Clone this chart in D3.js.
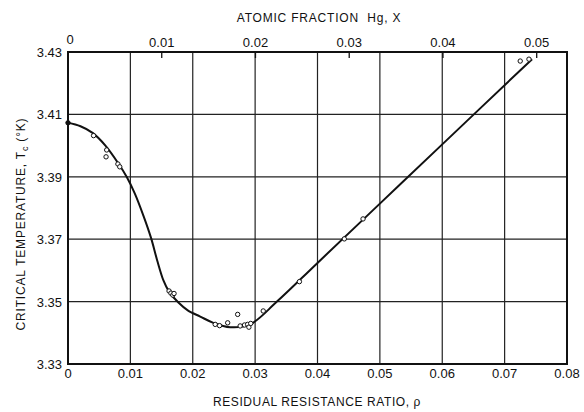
<!DOCTYPE html>
<html><head><meta charset="utf-8">
<script src="https://cdn.jsdelivr.net/npm/d3@7"></script>
<style>
html,body{margin:0;padding:0;background:#fff;}
svg text{font-family:"Liberation Sans",Arial,sans-serif;fill:#111;}
</style></head>
<body>
<svg id="chart" width="584" height="412"></svg>
<script>
// ---- data ----
const rhoTicks = [0,0.01,0.02,0.03,0.04,0.05,0.06,0.07,0.08];
const rhoTickLabels = ["0","0.01","0.02","0.03","0.04","0.05","0.06","0.07","0.08"];
const tcTicks = [3.33,3.35,3.37,3.39,3.41,3.43];
const tcTickLabels = ["3.33","3.35","3.37","3.39","3.41","3.43"];
const xTicks = [0,0.01,0.02,0.03,0.04,0.05];
const xTickLabels = ["0","0.01","0.02","0.03","0.04","0.05"];

// measured points
const pointRho = [0,0.0041,0.0062,0.0061,0.0080,0.0083,0.0162,0.0165,0.0168,0.0170,
  0.0236,0.0243,0.0256,0.0272,0.0276,0.0283,0.0288,0.0290,0.0293,0.0313,0.0371,0.0443,0.0473,0.0725,0.0739];
const pointTc = [3.4073,3.4032,3.3986,3.3964,3.3941,3.3932,3.3534,3.3527,3.3521,3.3526,
  3.3427,3.3423,3.3432,3.3459,3.3422,3.3425,3.3427,3.3418,3.3430,3.3470,3.3564,3.3701,3.3765,3.4271,3.4277];

// fitted curve
const curveRho = [0,0.002,0.004,0.006,0.008,0.0094,0.0107,0.0121,0.0133,0.0143,0.0153,0.0162,0.0177,0.0192,0.0212,0.0233,0.0260,0.0292,0.0335,0.040,0.050,0.060,0.0744];
const curveTc  = [3.4073,3.4062,3.4040,3.4000,3.3945,3.3900,3.3847,3.3775,3.3705,3.3632,3.3568,3.3532,3.3497,3.3472,3.3452,3.3432,3.3418,3.3427,3.3500,3.3624,3.3814,3.4004,3.4277];

// ---- layout ----
const L=68, R=567, T=52, B=364;
const svg = d3.select("#chart");
const x = d3.scaleLinear().domain([0,0.08]).range([L,R]);
const xTop = d3.scaleLinear().domain([0,(R-L)/9374]).range([L,R]);
const y = d3.scaleLinear().domain([3.33,3.43]).range([B,T]);

// grid
svg.append("g").selectAll("line").data(rhoTicks.slice(1,-1)).join("line")
  .attr("x1",d=>x(d)).attr("x2",d=>x(d)).attr("y1",T).attr("y2",B)
  .attr("stroke","#222").attr("stroke-width",1.2);
svg.append("g").selectAll("line").data(tcTicks.slice(1,-1)).join("line")
  .attr("y1",d=>y(d)).attr("y2",d=>y(d)).attr("x1",L).attr("x2",R)
  .attr("stroke","#222").attr("stroke-width",1.2);

// frame
svg.append("rect").attr("x",L).attr("y",T).attr("width",R-L).attr("height",B-T)
  .attr("fill","none").attr("stroke","#111").attr("stroke-width",2);

// top axis inward ticks
svg.append("g").selectAll("line").data(xTicks.slice(1)).join("line")
  .attr("x1",d=>xTop(d)).attr("x2",d=>xTop(d)).attr("y1",T).attr("y2",T+6)
  .attr("stroke","#111").attr("stroke-width",1.3);

// tick labels
svg.append("g").selectAll("text").data(rhoTicks).join("text")
  .attr("x",d=>x(d)).attr("y",378).attr("text-anchor","middle")
  .attr("font-size",13).text((d,i)=>rhoTickLabels[i]);
svg.append("g").selectAll("text").data(xTicks).join("text")
  .attr("x",d=>xTop(d)+(d===0?2:0)).attr("y",d=>d===0?44:47).attr("text-anchor","middle")
  .attr("font-size",13).text((d,i)=>xTickLabels[i]);
svg.append("g").selectAll("text").data(tcTicks).join("text")
  .attr("x",62).attr("y",d=>y(d)+5).attr("text-anchor","end")
  .attr("font-size",13).text((d,i)=>tcTickLabels[i]);

// axis titles
svg.append("text").attr("x",317).attr("y",406).attr("text-anchor","middle")
  .attr("font-size",12).attr("letter-spacing",0.6).text("RESIDUAL RESISTANCE RATIO, ρ");
svg.append("text").attr("x",319).attr("y",22).attr("text-anchor","middle")
  .attr("font-size",12).attr("letter-spacing",0.8).attr("xml:space","preserve")
  .style("white-space","pre").text("ATOMIC FRACTION  Hg, X");
const yt = svg.append("text").attr("transform","translate(25,224) rotate(-90)")
  .attr("text-anchor","middle").attr("font-size",12).attr("letter-spacing",0.8);
yt.append("tspan").text("CRITICAL TEMPERATURE, T");
yt.append("tspan").attr("font-size",9).attr("dy",3).text("c");
yt.append("tspan").attr("dy",-3).text(" (°K)");

// curve
const curveData = curveRho.map((r,i)=>[r,curveTc[i]]);
svg.append("path").datum(curveData)
  .attr("d", d3.line().x(d=>x(d[0])).y(d=>y(d[1])).curve(d3.curveCatmullRom.alpha(0.5)))
  .attr("fill","none").attr("stroke","#111").attr("stroke-width",2);

// points
const pts = pointRho.map((r,i)=>[r,pointTc[i]]);
svg.append("g").selectAll("circle").data(pts).join("circle")
  .attr("cx",d=>x(d[0])).attr("cy",d=>y(d[1])).attr("r",2.2)
  .attr("fill",(d,i)=>i===0?"#111":"#fff").attr("stroke","#111").attr("stroke-width",1);
</script>
</body></html>
